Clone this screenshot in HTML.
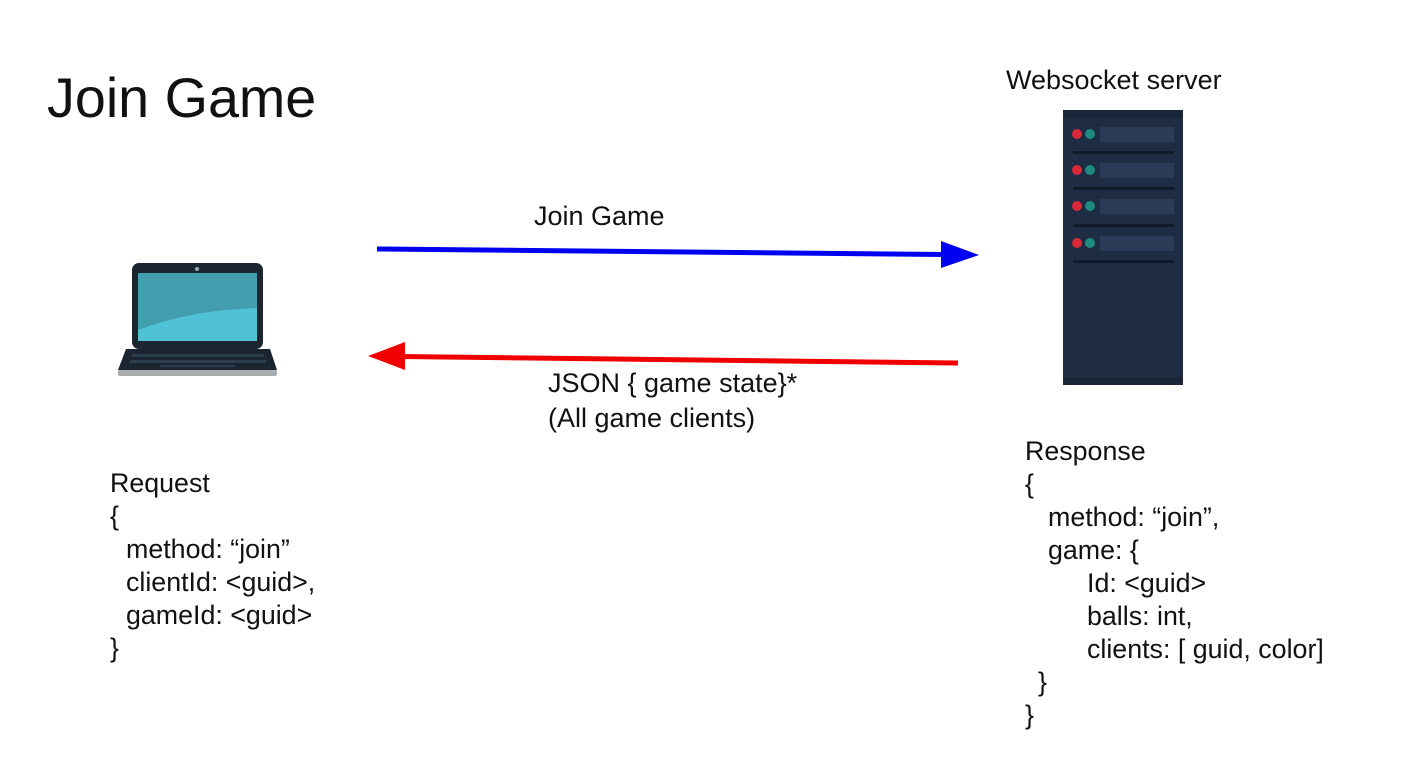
<!DOCTYPE html>
<html><head><meta charset="utf-8"><style>
html,body{margin:0;padding:0;background:#fff;}
svg{display:block;}
text{font-family:"Liberation Sans",Arial,sans-serif;fill:#111;}
</style></head><body>
<svg width="1414" height="772" viewBox="0 0 1414 772" xmlns="http://www.w3.org/2000/svg">
<rect width="1414" height="772" fill="#fff"/>
<text x="47" y="117" font-size="55.7">Join Game</text>
<text x="1006" y="89" font-size="27">Websocket server</text>

<!-- server -->
<rect x="1063" y="110" width="120" height="275" fill="#1f2d44"/>
<rect x="1063" y="110" width="120" height="8" fill="#1a2538"/>
<rect x="1063" y="377" width="120" height="8" fill="#1a2538"/>
<g>
 <circle cx="1077" cy="134" r="5" fill="#d9293b"/><circle cx="1090" cy="134" r="5" fill="#1e8a82"/><rect x="1100" y="127" width="74" height="15" fill="#2a3b57"/><rect x="1073" y="151" width="101" height="3" fill="#111a28"/>
 <circle cx="1077" cy="170" r="5" fill="#d9293b"/><circle cx="1090" cy="170" r="5" fill="#1e8a82"/><rect x="1100" y="163" width="74" height="15" fill="#2a3b57"/><rect x="1073" y="187" width="101" height="3" fill="#111a28"/>
 <circle cx="1077" cy="206" r="5" fill="#d9293b"/><circle cx="1090" cy="206" r="5" fill="#1e8a82"/><rect x="1100" y="199" width="74" height="15" fill="#2a3b57"/><rect x="1073" y="224" width="101" height="3" fill="#111a28"/>
 <circle cx="1077" cy="243" r="5" fill="#d9293b"/><circle cx="1090" cy="243" r="5" fill="#1e8a82"/><rect x="1100" y="236" width="74" height="15" fill="#2a3b57"/><rect x="1073" y="260" width="101" height="3" fill="#111a28"/>
</g>

<!-- laptop -->
<rect x="132" y="263" width="131" height="86" rx="7" fill="#1b2531"/>
<circle cx="197" cy="269" r="2" fill="#9aa"/>
<rect x="138" y="273" width="119" height="68" fill="#429dae"/>
<path d="M138 330 Q190 310 257 308 L257 341 L138 341 Z" fill="#4fc2d6"/>
<path d="M126 349 L270 349 L277 370 L118 370 Z" fill="#1b2531"/>
<rect x="118" y="370" width="159" height="6" rx="2" fill="#a9adb0"/>
<g fill="#2c3d4e">
 <rect x="132" y="354" width="132" height="3"/><rect x="130" y="360" width="136" height="3"/><rect x="160" y="365" width="75" height="2"/>
</g>

<!-- arrows -->
<line x1="377" y1="249" x2="945" y2="254.5" stroke="#0000f0" stroke-width="5"/>
<polygon points="941,241 979,255 941,268" fill="#0000f0"/>
<line x1="958" y1="363" x2="400" y2="356.5" stroke="#f00000" stroke-width="5"/>
<polygon points="405,342 368,356 405,370" fill="#f00000"/>

<text x="534" y="225" font-size="27">Join Game</text>
<text x="548" y="392" font-size="27">JSON { game state}*</text>
<text x="548" y="427" font-size="27">(All game clients)</text>

<g font-size="26.8">
<text x="110" y="492">Request</text>
<text x="110" y="525">{</text>
<text x="126" y="558">method: “join”</text>
<text x="126" y="591">clientId: &lt;guid&gt;,</text>
<text x="126" y="624">gameId: &lt;guid&gt;</text>
<text x="110" y="657">}</text>

<text x="1025" y="460">Response</text>
<text x="1025" y="493">{</text>
<text x="1048" y="526">method: “join”,</text>
<text x="1048" y="559">game: {</text>
<text x="1087" y="592">Id: &lt;guid&gt;</text>
<text x="1087" y="625">balls: int,</text>
<text x="1087" y="658">clients: [ guid, color]</text>
<text x="1038" y="691">}</text>
<text x="1025" y="724">}</text>
</g>
</svg>
</body></html>
